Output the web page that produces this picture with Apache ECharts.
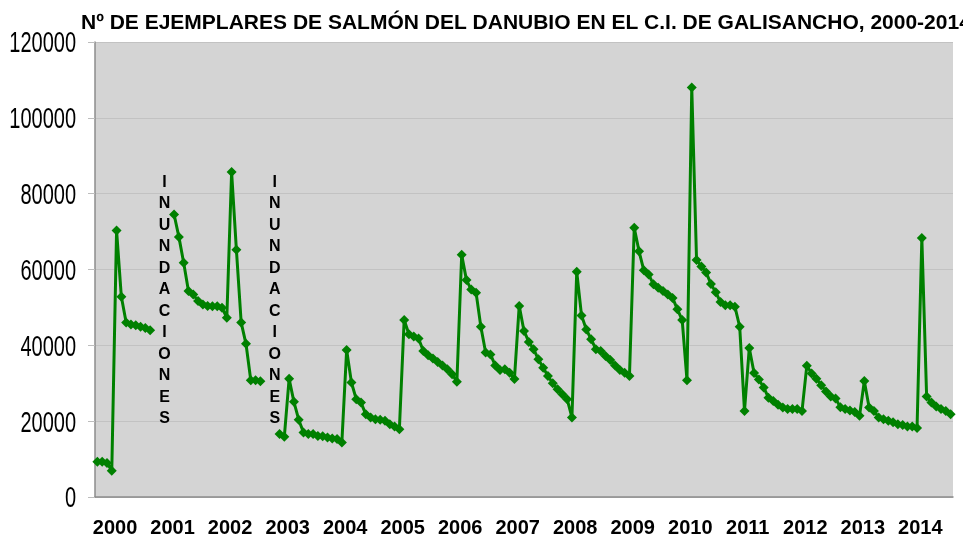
<!DOCTYPE html>
<html>
<head>
    <meta charset="utf-8">
    <title>Salmón del Danubio - Galisancho</title>
    <script src="https://cdn.jsdelivr.net/npm/echarts@6/dist/echarts.min.js"></script>
    <style>
        html, body { margin: 0; padding: 0; background: #fff; }
        #chart { width: 963px; height: 538px; }
    </style>
</head>
<body>
    <div id="chart"></div>

    <script type="text/javascript">
       // years shown on the axis, one value per month (Jan..Dec)
       var years = ['2000','2001','2002','2003','2004','2005','2006','2007','2008','2009','2010','2011','2012','2013','2014'];
       var months = ['01','02','03','04','05','06','07','08','09','10','11','12'];

       var y2000 = [9300, 9300, 9000, 6900, 70300, 52800, 46000, 45500, 45300, 44900, 44600, 44000];
       var y2001 = [null, null, null, null, 74500, 68600, 61800, 54300, 53400, 51700, 50800, 50400];
       var y2002 = [50300, 50300, 49900, 47300, 85700, 65200, 46000, 40400, 30800, 30800, 30500, null];
       var y2003 = [null, null, 16600, 15900, 31200, 25100, 20400, 17000, 16600, 16600, 16100, 16000];
       var y2004 = [15700, 15400, 15300, 14400, 38800, 30200, 25800, 24900, 21800, 21000, 20500, 20400];
       var y2005 = [20100, 19200, 18600, 17900, 46700, 42900, 42300, 41800, 38500, 37400, 36500, 35600];
       var y2006 = [34700, 33700, 32400, 30400, 63900, 57200, 54700, 53900, 44900, 38100, 37600, 34700];
       var y2007 = [33500, 33700, 32800, 31100, 50400, 43800, 40900, 39000, 36300, 34100, 31900, 30000];
       var y2008 = [28400, 27100, 25800, 21000, 59400, 47900, 44200, 41600, 39000, 38500, 37200, 36100];
       var y2009 = [34700, 33500, 32800, 31900, 71000, 64800, 59800, 58700, 56100, 55200, 54300, 53400];
       var y2010 = [52500, 49500, 46700, 30800, 108000, 62500, 60800, 59200, 56200, 54000, 51400, 50600];
       var y2011 = [50600, 50200, 44900, 22700, 39300, 32700, 31000, 28900, 26200, 25300, 24300, 23600];
       var y2012 = [23200, 23200, 23200, 22700, 34600, 32600, 31200, 29500, 27800, 26500, 26000, 23700];
       var y2013 = [23200, 22800, 22400, 21400, 30600, 23600, 22700, 21000, 20500, 20100, 19700, 19200];
       var y2014 = [19000, 18600, 18600, 18200, 68300, 26500, 24900, 23900, 23200, 22700, 21800];

       var yTicks = [0, 20000, 40000, 60000, 80000, 100000, 120000];
       var floodNote = 'INUNDACIONES';
       var floodAt = [14, 37];   // category index where the note stands
       var floodLevel = 51800;

       var values = [].concat(y2000, y2001, y2002, y2003, y2004, y2005, y2006, y2007,
                              y2008, y2009, y2010, y2011, y2012, y2013, y2014);
       var categories = [];
       for (var i = 0; i < values.length; i++) {
           categories.push(years[Math.floor(i / 12)] + '-' + months[i % 12]);
       }

       var myChart = echarts.init(document.getElementById('chart'));

       myChart.setOption({
           animation: false,
           backgroundColor: '#ffffff',
           title: {
               text: 'Nº DE EJEMPLARES DE SALMÓN DEL DANUBIO EN EL C.I. DE GALISANCHO, 2000-2014',
               left: 76,
               top: 8,
               textStyle: { fontFamily: 'Liberation Sans', fontSize: 21, fontWeight: 'bold', color: '#000' }
           },
           grid: {
               left: 95, right: 10, top: 42, bottom: 40,
               show: true, backgroundColor: '#d4d4d4', borderWidth: 0
           },
           xAxis: {
               type: 'category',
               data: categories,
               boundaryGap: true,
               axisLine: { lineStyle: { color: '#8c8c8c', width: 1.5 } },
               axisTick: { interval: 0, length: 7, lineStyle: { color: '#bdbdbd' } },
               axisLabel: {
                   interval: function (idx) { return idx % 12 === 4; },
                   formatter: function (v) { return v.slice(0, 4); },
                   margin: 21,
                   padding: [0, 3, 0, 0],
                   fontFamily: 'Liberation Sans', fontSize: 20, fontWeight: 'bold', color: '#000'
               },
               splitLine: { show: false }
           },
           yAxis: {
               type: 'value',
               min: yTicks[0],
               max: yTicks[yTicks.length - 1],
               interval: yTicks[1] - yTicks[0],
               axisLine: { show: true, lineStyle: { color: '#8c8c8c', width: 1.5 } },
               axisTick: { show: true, length: 7, lineStyle: { color: '#bdbdbd' } },
               // labels are drawn below as tall narrow text
               axisLabel: { show: false },
               splitLine: { lineStyle: { color: '#c2c2c2', width: 1 } }
           },
           series: [{
               type: 'line',
               data: values,
               connectNulls: false,
               showAllSymbol: true,
               symbol: 'diamond',
               symbolSize: 10,
               lineStyle: { color: '#008000', width: 3 },
               itemStyle: { color: '#008000' }
           }]
       });

       var graphics = [];

       // y tick labels, stretched vertically like the original
       yTicks.forEach(function (t) {
           var p = myChart.convertToPixel({ yAxisIndex: 0 }, t);
           graphics.push({
               type: 'text',
               x: 76, y: p + 2.5,
               scaleY: 1.45,
               style: {
                   text: String(t),
                   font: '20px "Liberation Sans"',
                   fill: '#000',
                   align: 'right',
                   verticalAlign: 'middle'
               }
           });
       });

       // vertical "INUNDACIONES" notes over the missing months
       floodAt.forEach(function (idx) {
           var p = myChart.convertToPixel({ seriesIndex: 0 }, [idx, floodLevel]);
           graphics.push({
               type: 'text',
               x: p[0], y: p[1],
               style: {
                   text: floodNote.split('').join('\n'),
                   font: 'bold 16px "Liberation Sans"',
                   lineHeight: 21.5,
                   fill: '#000',
                   align: 'center',
                   verticalAlign: 'middle'
               }
           });
       });
       myChart.setOption({ graphic: graphics });
    </script>
</body>
</html>
